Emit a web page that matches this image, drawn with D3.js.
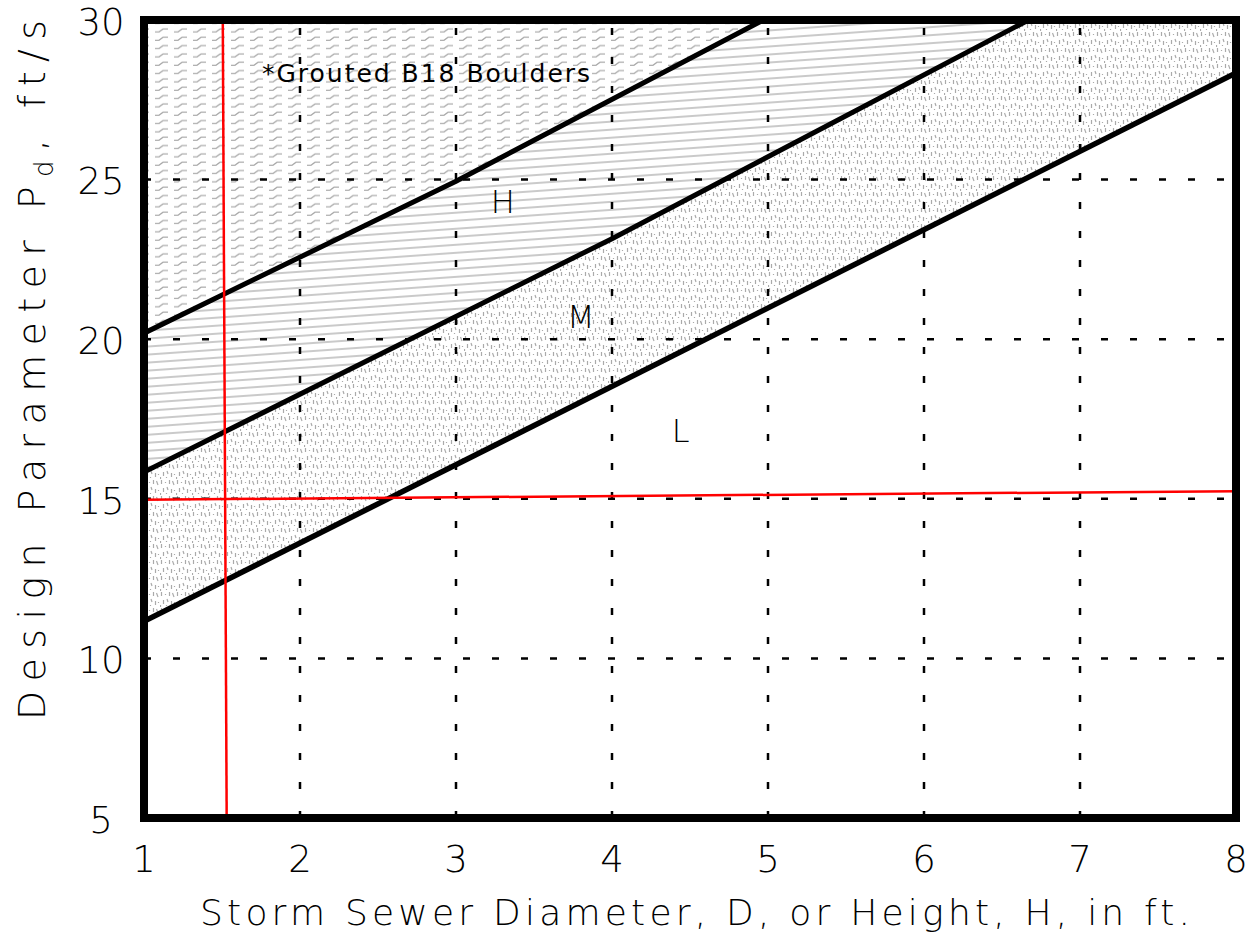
<!DOCTYPE html>
<html><head><meta charset="utf-8">
<script src="https://cdn.jsdelivr.net/npm/d3@7"></script>
<style>html,body{margin:0;padding:0;background:#fff;}svg{display:block;}</style>
</head><body>
<script>
// ---- data ----
const xTicks = [1, 2, 3, 4, 5, 6, 7, 8];
const yTicks = [5, 10, 15, 20, 25, 30];
const xGrid = [2, 3, 4, 5, 6, 7];
const yGrid = [10, 15, 20, 25];
// boundary lines (x in ft, Pd in ft/s)
const lineBoulders = [[1, 20.19], [3, 24.95], [4.97, 30]];   // top of H zone
const lineHM = [[1, 15.84], [4, 23.15], [6.67, 30]];         // H / M boundary
const lineML = [[1, 11.16], [8, 28.34]];                     // M / L boundary
// red example lines
const redVertical = [[1.505, 30], [1.53, 5]];
const redHorizontal = [[1, 14.97], [8, 15.24]];
const zoneLabels = [
  {text: "H", x: 3.3, y: 23.95},
  {text: "M", x: 3.8, y: 20.35},
  {text: "L", x: 4.44, y: 16.78}
];
const noteText = "*Grouted B18 Boulders";
const xTitle = "Storm Sewer Diameter, D, or Height, H, in ft.";

// ---- layout ----
const W = 1252, H = 941;
const x = d3.scaleLinear().domain([1, 8]).range([144, 1236]);
const y = d3.scaleLinear().domain([5, 30]).range([818, 20]);
const svg = d3.select("body").append("svg").attr("width", W).attr("height", H);
const defs = svg.append("defs");
const FONT = "DejaVu Sans, Liberation Sans, sans-serif";
const FW = 200;

// patterns
const pw = defs.append("pattern").attr("id", "wave").attr("patternUnits", "userSpaceOnUse")
  .attr("width", 19).attr("height", 8.33).attr("x", 2).attr("y", 2);
pw.append("path").attr("d", "M1,5 L5,5 L9,2 L14,2").attr("fill", "none")
  .attr("stroke", "#a8a8a8").attr("stroke-width", 1.3);

const ph = defs.append("pattern").attr("id", "hatch").attr("patternUnits", "userSpaceOnUse")
  .attr("width", 40).attr("height", 8).attr("patternTransform", "rotate(-4)");
ph.append("line").attr("x1", 0).attr("x2", 40).attr("y1", 4).attr("y2", 4)
  .attr("stroke", "#b8b8b8").attr("stroke-width", 1.6);

const ps = defs.append("pattern").attr("id", "stipple").attr("patternUnits", "userSpaceOnUse")
  .attr("width", 16).attr("height", 16);
const stippleMarks = [
  "M1.5,0 L1.5,4", "M5.5,2 L5.5,3", "M9.5,0 L9.5,4", "M12.5,1 L14,5",
  "M3.5,8 L3.5,12", "M7,7 L8,10", "M11.5,9 L11.5,13", "M14.5,10 L14.5,11",
  "M6.5,13 L6.5,14", "M0.5,13 L0.5,15"
];
ps.selectAll("path").data(stippleMarks).join("path").attr("d", d => d)
  .attr("stroke", "#aaaaaa").attr("stroke-width", 1.2).attr("fill", "none");

defs.append("clipPath").attr("id", "plotclip").append("rect")
  .attr("x", x(1)).attr("y", y(30)).attr("width", x(8) - x(1)).attr("height", y(5) - y(30));

const plot = svg.append("g").attr("clip-path", "url(#plotclip)");
const poly = d3.line().x(d => x(d[0])).y(d => y(d[1]));

// zone fills
plot.append("path").attr("d", poly([...lineBoulders, [1, 30]]) + "Z")
  .attr("fill", "url(#wave)");
plot.append("path").attr("d", poly([...lineHM, ...lineBoulders.slice().reverse()]) + "Z")
  .attr("fill", "url(#hatch)");
plot.append("path").attr("d", poly([...lineML, [8, 30], ...lineHM.slice().reverse()]) + "Z")
  .attr("fill", "url(#stipple)");

// grid
plot.selectAll(".gx").data(xGrid).join("line").attr("class", "gx")
  .attr("x1", d => x(d)).attr("x2", d => x(d)).attr("y1", y(5)).attr("y2", y(30))
  .attr("stroke", "#000").attr("stroke-width", 2.5).attr("stroke-dasharray", "7,22");
plot.selectAll(".gy").data(yGrid).join("line").attr("class", "gy")
  .attr("x1", x(1)).attr("x2", x(8)).attr("y1", d => y(d)).attr("y2", d => y(d))
  .attr("stroke", "#000").attr("stroke-width", 2.5).attr("stroke-dasharray", "7,22");

// boundary lines
[lineBoulders, lineHM, lineML].forEach((l, i) => {
  plot.append("path").attr("d", poly(l)).attr("fill", "none")
    .attr("stroke", "#000").attr("stroke-width", i === 2 ? 5.5 : 5);
});

// red lines
[redVertical, redHorizontal].forEach(l => {
  svg.append("path").attr("d", poly(l)).attr("fill", "none")
    .attr("stroke", "#ff0000").attr("stroke-width", 2.5);
});

// frame
svg.append("rect").attr("x", x(1)).attr("y", y(30)).attr("width", x(8) - x(1)).attr("height", y(5) - y(30))
  .attr("fill", "none").attr("stroke", "#000").attr("stroke-width", 8);

// tick labels
svg.selectAll(".yt").data(yTicks).join("text").attr("class", "yt")
  .attr("x", 101).attr("y", d => y(d)).attr("dy", "0.4em")
  .attr("text-anchor", "middle").attr("font-family", FONT).attr("font-weight", FW).attr("font-size", 37)
  .text(d => d);
svg.selectAll(".xt").data(xTicks).join("text").attr("class", "xt")
  .attr("x", d => x(d)).attr("y", 872)
  .attr("text-anchor", "middle").attr("font-family", FONT).attr("font-weight", FW).attr("font-size", 37)
  .text(d => d);

// helper to stretch text to a target width
function fit(sel, target) {
  const node = sel.node();
  const n = node.getNumberOfChars();
  const len = node.getComputedTextLength();
  sel.attr("letter-spacing", ((target - len) / (n - 1)).toFixed(2));
}

// zone labels
svg.selectAll(".zl").data(zoneLabels).join("text").attr("class", "zl")
  .attr("x", d => x(d.x)).attr("y", d => y(d.y))
  .attr("text-anchor", "middle").attr("font-family", FONT).attr("font-weight", FW).attr("font-size", 32)
  .text(d => d.text);

// note
const note = svg.append("text").attr("x", 262).attr("y", 82)
  .attr("font-family", FONT).attr("font-size", 25).text(noteText);
fit(note, 328);

// x title
const xt = svg.append("text").attr("x", 200).attr("y", 925)
  .attr("font-family", FONT).attr("font-weight", FW).attr("font-size", 36).text(xTitle);
fit(xt, 990);

// y title
const yt = svg.append("text").attr("transform", "translate(45,720) rotate(-90)")
  .attr("font-family", FONT).attr("font-weight", FW).attr("font-size", 38);
yt.append("tspan").text("Design Parameter P");
yt.append("tspan").attr("font-size", 26).attr("dy", 8).text("d");
yt.append("tspan").attr("dy", -8).text(", ft/s");
fit(yt, 700);
</script>
</body></html>
